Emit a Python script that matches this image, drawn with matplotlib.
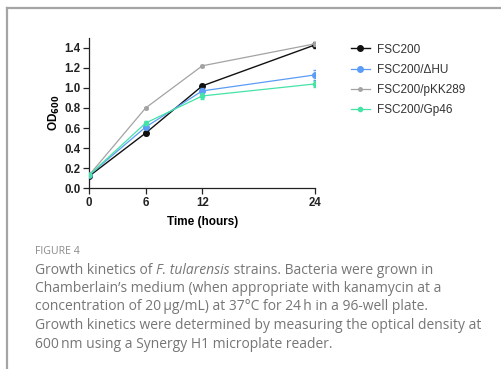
import numpy as np
import matplotlib.pyplot as plt
from matplotlib.lines import Line2D

time_h = [0, 6, 12, 24]

fsc200 = [0.12, 0.55, 1.02, 1.43]
fsc200_err = [0.01, 0.02, 0.02, 0.03]
dhu = [0.13, 0.61, 0.97, 1.13]
dhu_err = [0.01, 0.02, 0.03, 0.05]
pkk289 = [0.13, 0.80, 1.22, 1.44]
pkk289_err = [0.01, 0.01, 0.01, 0.02]
gp46 = [0.13, 0.65, 0.92, 1.04]
gp46_err = [0.01, 0.02, 0.03, 0.03]

labels = ['FSC200', 'FSC200/ΔHU', 'FSC200/pKK289', 'FSC200/Gp46']
colors = ['#111111', '#5b9cf6', '#a3a3a3', '#45e3a6']
series = [fsc200, dhu, pkk289, gp46]
errors = [fsc200_err, dhu_err, pkk289_err, gp46_err]
msizes = [4, 4, 2.5, 3]
lws = [1.0, 0.9, 0.9, 0.9]

plt.rcParams['font.family'] = ['Liberation Sans', 'DejaVu Sans']

fig = plt.figure(figsize=(5.02, 3.69), dpi=100)

# frame around figure (partly cropped)
fig.add_artist(Line2D([6.5 / 502, 1.0], [1 - 7.5 / 369] * 2, color='#a5a5a5', lw=1.6,
                      transform=fig.transFigure))
fig.add_artist(Line2D([6.5 / 502] * 2, [0.0, 1 - 7.5 / 369], color='#a5a5a5', lw=1.6,
                      transform=fig.transFigure))

ax = fig.add_axes([89 / 502, 1 - 188.3 / 369, (315.5 - 89) / 502, 150.6 / 369])

order = [2, 3, 1, 0]
for i in order:
    ax.errorbar(time_h, series[i], yerr=errors[i], color=colors[i], marker='o',
                ms=msizes[i], lw=lws[i], elinewidth=0.9, capsize=1.5, zorder=3 + i)

ax.set_xlim(0, 24)
ax.set_ylim(0, 1.5)
ax.set_xticks([0, 6, 12, 24])
ax.set_yticks(np.arange(0, 1.41, 0.2))
ax.set_yticklabels([f'{v:.1f}' for v in np.arange(0, 1.41, 0.2)])
ax.spines['top'].set_visible(False)
ax.spines['right'].set_visible(False)
for s in ['left', 'bottom']:
    ax.spines[s].set_linewidth(0.9)
    ax.spines[s].set_color('#222222')
ax.tick_params(axis='both', length=4, width=0.9, labelsize=8.3, pad=2, colors='#222222')
for t in ax.get_xticklabels() + ax.get_yticklabels():
    t.set_fontweight('bold')
ax.set_xlabel('Time (hours)', fontsize=8.5, fontweight='bold', labelpad=5)
ax.set_ylabel('OD$_{\\mathbf{600}}$', fontsize=8.5, fontweight='bold', labelpad=2)
ax.set_clip_on(False)

handles = [Line2D([], [], color=colors[i], marker='o', ms=msizes[i], lw=lws[i]) for i in range(4)]
fig.legend(handles, labels, loc='upper left', bbox_to_anchor=(340 / 502, 1 - 33 / 369),
           frameon=False, fontsize=8.5, handlelength=1.6, handletextpad=0.6,
           labelspacing=0.68, labelcolor='#333333')

# caption
fig.text(35 / 502, 1 - 252 / 369, 'FIGURE 4', fontsize=7.6, color='#8a8a8a',
         family='Open Sans', va='center')
cap_kw = dict(fontsize=10, color='#767676', family='Open Sans', va='center')
t1 = fig.text(35 / 502, 1 - 270 / 369, 'Growth kinetics of ', **cap_kw)
t2 = fig.text(0, 0, 'F. tularensis', style='italic', **cap_kw)
t3 = fig.text(0, 0, ' strains. Bacteria were grown in', **cap_kw)
fig.canvas.draw()
r = fig.canvas.get_renderer()
x = t1.get_window_extent(r).x1 / fig.bbox.width
t2.set_position((x, 1 - 270 / 369))
x = t2.get_window_extent(r).x1 / fig.bbox.width
t3.set_position((x, 1 - 270 / 369))

cap_lines = [
    'Chamberlain\u2019s medium (when appropriate with kanamycin at a',
    'concentration of 20\u2009\u03bcg/mL) at 37\u00b0C for 24\u2009h in a 96-well plate.',
    'Growth kinetics were determined by measuring the optical density at',
    '600\u2009nm using a Synergy H1 microplate reader.',
]
cap_y = [288.5, 307, 325.5, 344]
for line, yy in zip(cap_lines, cap_y):
    fig.text(35 / 502, 1 - yy / 369, line, **cap_kw)

fig.savefig('out.png', dpi=100)
